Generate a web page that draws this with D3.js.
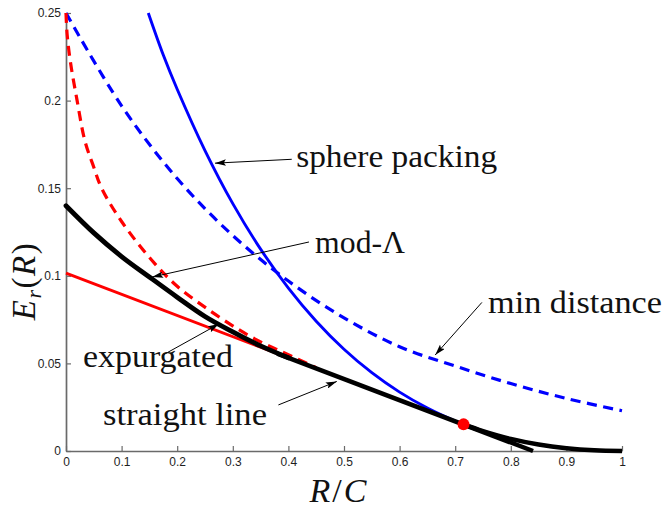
<!DOCTYPE html>
<html>
<head>
<meta charset="utf-8">
<script src="https://cdn.jsdelivr.net/npm/d3@7"></script>
<style>
  html, body { margin: 0; padding: 0; background: #fff; }
  svg { display: block; }
</style>
</head>
<body>
<script>
// ---------------- data ----------------
const xTicks = [0, 0.1, 0.2, 0.3, 0.4, 0.5, 0.6, 0.7, 0.8, 0.9, 1];
const xTickLabels = ["0", "0.1", "0.2", "0.3", "0.4", "0.5", "0.6", "0.7", "0.8", "0.9", "1"];
const yTicks = [0, 0.05, 0.1, 0.15, 0.2, 0.25];
const yTickLabels = ["0", "0.05", "0.1", "0.15", "0.2", "0.25"];

// sphere packing (blue solid)
const spherePackingR = [0.148, 0.175, 0.2, 0.25, 0.3, 0.35, 0.4, 0.45, 0.5, 0.55, 0.6, 0.65, 0.7, 0.715, 0.75, 0.8, 0.85, 0.9, 0.95, 1];
const spherePackingE = [0.25, 0.226, 0.2065, 0.1715, 0.1412, 0.1152, 0.093, 0.0741, 0.0581, 0.0447, 0.0336, 0.0245, 0.0171, 0.0152, 0.0114, 0.0069, 0.0037, 0.0016, 0.0004, 0];

// min distance (blue dashed)
const minDistanceR = [0, 0.1, 0.2, 0.3, 0.4, 0.5, 0.6, 0.7, 0.8, 0.9, 1];
const minDistanceE = [0.25, 0.197, 0.1555, 0.123, 0.097, 0.076, 0.0595, 0.0485, 0.0385, 0.030, 0.023];

// red dashed curve
const redDashR = [0, 0.002, 0.008, 0.02, 0.034, 0.05, 0.064, 0.1, 0.154, 0.2, 0.253, 0.307, 0.349, 0.388, 0.42, 0.45];
const redDashE = [0.25, 0.238, 0.222, 0.2, 0.177, 0.162, 0.15, 0.131, 0.109, 0.094, 0.0814, 0.07, 0.0624, 0.0567, 0.052, 0.0475];

// expurgated straight segment (red solid)
const redLineR = [0, 0.42];
const redLineE = [0.1015, 0.0508];

// mod-Lambda (black thick curve)
const modLambdaR = [0, 0.05, 0.1, 0.15, 0.2, 0.25, 0.3, 0.35, 0.4];
const modLambdaE = [0.14, 0.1245, 0.111, 0.0993, 0.0878, 0.0768, 0.068, 0.06, 0.0532];

// straight line (black thick)
const straightR = [0.38, 0.84];
const straightE = [0.0556, 0];

// critical point (red dot)
const critR = [0.715];
const critE = [0.0152];

// annotations (text anchor, arrow start, arrow tip in data units; text widths)
const annLabels = ["sphere packing", "mod-\u039B", "min distance", "expurgated", "straight line"];
const annTextR = [0.414, 0.448, 0.759, 0.0306, 0.0665];
const annTextE = [0.1621, 0.113, 0.0788, 0.0479, 0.0148];
const annFromR = [0.406, 0.437, 0.748, 0.1745, 0.382];
const annFromE = [0.1665, 0.1193, 0.0848, 0.0548, 0.0263];
const annToR = [0.268, 0.155, 0.664, 0.275, 0.487];
const annToE = [0.1643, 0.0993, 0.0548, 0.0725, 0.0397];
const annWidth = [201, 90, 174, 150, 164];

// ---------------- chart ----------------
const W = 663, H = 512;
const svg = d3.select("body").append("svg").attr("width", W).attr("height", H);
svg.append("rect").attr("width", W).attr("height", H).attr("fill", "#fff");

const x = d3.scaleLinear().domain([0, 1]).range([66, 622]);
const y = d3.scaleLinear().domain([0, 0.25]).range([451, 13]);

const zip = (rs, es) => rs.map((r, i) => [r, es[i]]);
const line = d3.line().x(d => x(d[0])).y(d => y(d[1]));
const smooth = d3.line().x(d => x(d[0])).y(d => y(d[1])).curve(d3.curveCatmullRom.alpha(0.5));

// axes
const axisColor = "#6a6a6a";
const xAxis = d3.axisBottom(x).tickValues(xTicks)
  .tickFormat((d, i) => xTickLabels[i]).tickSizeInner(-5).tickSizeOuter(0).tickPadding(6.5);
const yAxis = d3.axisLeft(y).tickValues(yTicks)
  .tickFormat((d, i) => yTickLabels[i]).tickSizeInner(-5).tickSizeOuter(0).tickPadding(5);

const gx = svg.append("g").attr("transform", `translate(0,${y(0)})`).call(xAxis);
const gy = svg.append("g").attr("transform", `translate(${x(0)},0)`).call(yAxis);
[gx, gy].forEach(g => {
  g.select(".domain").attr("stroke", axisColor).attr("stroke-width", 1.7);
  g.selectAll(".tick line").attr("stroke", axisColor).attr("stroke-width", 1.2);
  g.selectAll(".tick text").attr("fill", "#1e1e1e")
    .style("font-family", "'Liberation Sans', Arial, sans-serif").style("font-size", "12px");
});

// curves
const plot = svg.append("g").attr("fill", "none").attr("stroke-linejoin", "round");

plot.append("path").datum(zip(minDistanceR, minDistanceE)).attr("d", smooth)
  .attr("stroke", "#0000ff").attr("stroke-width", 3.2).attr("stroke-dasharray", "10,6.5");

plot.append("path").datum(zip(spherePackingR, spherePackingE)).attr("d", smooth)
  .attr("stroke", "#0000ff").attr("stroke-width", 2.9);

plot.append("path").datum(zip(redDashR, redDashE)).attr("d", smooth)
  .attr("stroke", "#ff0000").attr("stroke-width", 3.2).attr("stroke-dasharray", "10,6.5");

plot.append("path").datum(zip(redLineR, redLineE)).attr("d", line)
  .attr("stroke", "#ff0000").attr("stroke-width", 2.9);

plot.append("path").datum(zip(modLambdaR, modLambdaE)).attr("d", smooth)
  .attr("stroke", "#000").attr("stroke-width", 4.8).attr("stroke-linecap", "round");

plot.append("path").datum(zip(straightR, straightE)).attr("d", line)
  .attr("stroke", "#000").attr("stroke-width", 4.5);

plot.append("path")
  .datum(zip(spherePackingR, spherePackingE).filter(d => d[0] >= critR[0]))
  .attr("d", smooth).attr("stroke", "#000").attr("stroke-width", 4.5);

svg.selectAll("circle.crit").data(zip(critR, critE)).enter().append("circle")
  .attr("class", "crit").attr("cx", d => x(d[0])).attr("cy", d => y(d[1]))
  .attr("r", 6).attr("fill", "#ff0000");

// arrow marker
svg.append("defs").append("marker").attr("id", "arr")
  .attr("viewBox", "0 0 10 6").attr("refX", 10).attr("refY", 3)
  .attr("markerUnits", "userSpaceOnUse").attr("markerWidth", 11).attr("markerHeight", 6.6)
  .attr("orient", "auto")
  .append("path").attr("d", "M0,0 L10,3 L0,6 L2,3 z").attr("fill", "#000");

// annotations
annLabels.forEach((t, i) => {
  svg.append("line")
    .attr("x1", x(annFromR[i])).attr("y1", y(annFromE[i]))
    .attr("x2", x(annToR[i])).attr("y2", y(annToE[i]))
    .attr("stroke", "#000").attr("stroke-width", 1).attr("marker-end", "url(#arr)");
  svg.append("text")
    .attr("x", x(annTextR[i])).attr("y", y(annTextE[i]))
    .attr("textLength", annWidth[i]).attr("lengthAdjust", "spacingAndGlyphs")
    .style("font-family", "'Liberation Serif', 'Times New Roman', serif")
    .style("font-size", "31px").attr("fill", "#111")
    .text(t);
});

// axis titles
const yl = svg.append("text")
  .attr("transform", "translate(35,281) rotate(-90)")
  .attr("text-anchor", "middle")
  .style("font-family", "'Liberation Serif', 'Times New Roman', serif")
  .style("font-size", "33px").style("letter-spacing", "1.5px").attr("fill", "#111");
yl.append("tspan").style("font-style", "italic").text("E");
yl.append("tspan").style("font-style", "italic").style("font-size", "22px").attr("dy", 6).text("r");
yl.append("tspan").attr("dy", -6).text("(");
yl.append("tspan").style("font-style", "italic").text("R");
yl.append("tspan").text(")");

const xl = svg.append("text")
  .attr("x", 339).attr("y", 502).attr("text-anchor", "middle")
  .style("font-family", "'Liberation Serif', 'Times New Roman', serif")
  .style("font-size", "34px").style("letter-spacing", "2px").attr("fill", "#111");
xl.append("tspan").style("font-style", "italic").text("R");
xl.append("tspan").text("/");
xl.append("tspan").style("font-style", "italic").text("C");
</script>
</body>
</html>
